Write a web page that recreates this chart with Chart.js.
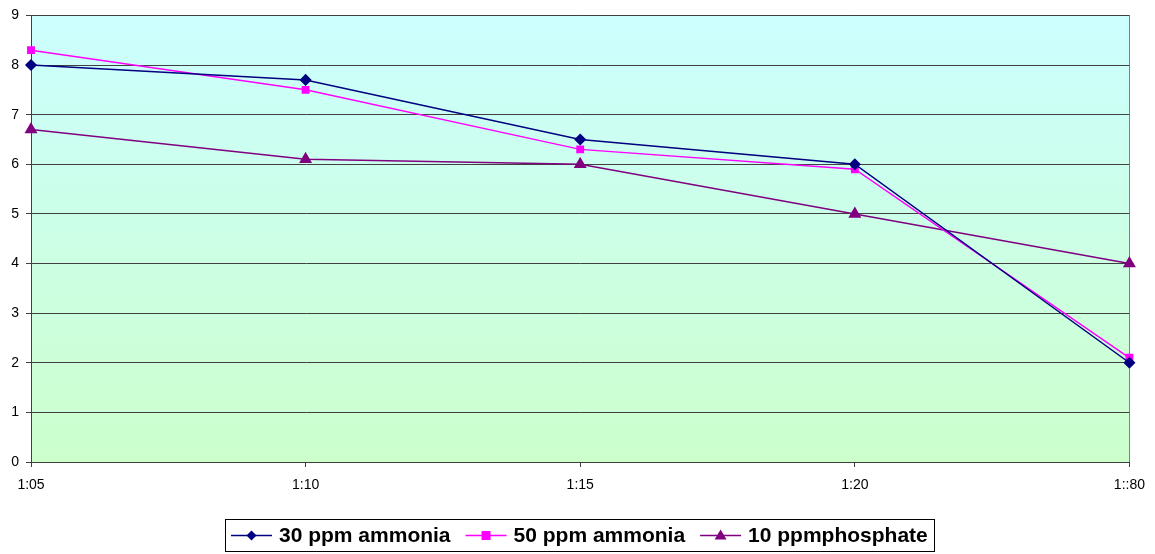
<!DOCTYPE html>
<html>
<head>
<meta charset="utf-8">
<script src="https://cdn.jsdelivr.net/npm/chart.js@4/dist/chart.umd.min.js"></script>
<style>
html,body{margin:0;padding:0;background:#fff;}
#wrap{width:1155px;height:554px;}
</style>
</head>
<body>
<div id="wrap"><canvas id="c" width="1155" height="554"></canvas></div>
<script>
const categories = ['1:05', '1:10', '1:15', '1:20', '1::80'];
const ammonia30 = [8, 7.7, 6.5, 6, 2];
const ammonia50 = [8.3, 7.5, 6.3, 5.9, 2.1];
const phosphate10 = [6.7, 6.1, 6.0, 5.0, 4.0];
const seriesNames = ['30 ppm ammonia', '50 ppm ammonia', '10 ppmphosphate'];

const bgPlugin = {
  id: 'bg',
  beforeDraw(chart) {
    const {ctx, chartArea: a} = chart;
    const g = ctx.createLinearGradient(0, a.top, 0, a.bottom);
    g.addColorStop(0, '#CCFFFF');
    g.addColorStop(1, '#CCFFCC');
    ctx.save();
    ctx.fillStyle = g;
    ctx.fillRect(a.left, a.top, a.right - a.left, a.bottom - a.top);
    ctx.strokeStyle = '#808080';
    ctx.lineWidth = 1;
    ctx.strokeRect(Math.round(a.left) + 0.5, Math.round(a.top) + 0.5, Math.round(a.right - a.left), Math.round(a.bottom - a.top));
    ctx.restore();
  }
};

function drawMarker(ctx, style, x, y, color) {
  ctx.fillStyle = color;
  ctx.beginPath();
  if (style === 'rectRot') {
    const r = 5;
    ctx.moveTo(x, y - r); ctx.lineTo(x + r, y); ctx.lineTo(x, y + r); ctx.lineTo(x - r, y);
  } else if (style === 'rect') {
    ctx.rect(x - 4.5, y - 4.5, 9, 9);
  } else {
    ctx.moveTo(x, y - 6); ctx.lineTo(x + 6, y + 4); ctx.lineTo(x - 6, y + 4);
  }
  ctx.closePath();
  ctx.fill();
}

const legendPlugin = {
  id: 'boxLegend',
  afterDraw(chart) {
    const {ctx} = chart;
    ctx.save();
    ctx.font = 'bold 21px "Liberation Sans", Arial, sans-serif';
    const lineLen = 41, gap = 7, spacing = 15, padX = 6;
    const items = chart.data.datasets.map(ds => ({ds, w: ctx.measureText(ds.label).width}));
    let total = padX * 2;
    items.forEach((it, i) => { total += lineLen + gap + it.w + (i < items.length - 1 ? spacing : 0); });
    const cx = 579;
    const left = Math.round(cx - total / 2);
    const top = 519, h = 32;
    ctx.strokeStyle = '#000';
    ctx.lineWidth = 1;
    ctx.strokeRect(left + 0.5, top + 0.5, Math.round(total), h);
    let x = left + padX;
    const y = top + h / 2 + 0.5;
    items.forEach(it => {
      const ds = it.ds;
      ctx.strokeStyle = ds.borderColor;
      ctx.lineWidth = 1.5;
      ctx.beginPath();
      ctx.moveTo(x, y); ctx.lineTo(x + lineLen, y); ctx.stroke();
      drawMarker(ctx, ds.pointStyle, x + lineLen / 2, y, ds.pointBackgroundColor);
      x += lineLen + gap;
      ctx.fillStyle = '#000';
      ctx.textBaseline = 'middle';
      ctx.textAlign = 'left';
      ctx.fillText(ds.label, x, y + 1);
      x += it.w + spacing;
    });
    ctx.restore();
  }
};

new Chart(document.getElementById('c'), {
  type: 'line',
  data: {
    labels: categories,
    datasets: [
      {label: seriesNames[0], data: ammonia30, borderColor: '#000080', backgroundColor: '#000080',
       pointBackgroundColor: '#000080', pointBorderColor: '#000080', pointStyle: 'rectRot', pointRadius: 5, borderWidth: 1.5},
      {label: seriesNames[1], data: ammonia50, borderColor: '#FF00FF', backgroundColor: '#FF00FF',
       pointBackgroundColor: '#FF00FF', pointBorderColor: '#FF00FF', pointStyle: 'rect', pointRadius: 4.5, borderWidth: 1.5},
      {label: seriesNames[2], data: phosphate10, borderColor: '#800080', backgroundColor: '#800080',
       pointBackgroundColor: '#800080', pointBorderColor: '#800080', pointStyle: 'triangle', pointRadius: 6, borderWidth: 1.5}
    ]
  },
  options: {
    responsive: false,
    animation: false,
    layout: {padding: {top: 10, right: 22, left: 0, bottom: 62}},
    plugins: {legend: {display: false}, tooltip: {enabled: false}},
    elements: {line: {tension: 0}},
    scales: {
      x: {
        offset: false,
        grid: {drawOnChartArea: false, color: '#404040', tickLength: 5},
        border: {color: '#404040'},
        ticks: {color: '#000', font: {family: '"Liberation Sans", Arial, sans-serif', size: 14}, padding: 10, maxRotation: 0},
        afterFit(s) { s.height = 30; }
      },
      y: {
        min: 0, max: 9,
        ticks: {stepSize: 1, color: '#000', font: {family: '"Liberation Sans", Arial, sans-serif', size: 14}, padding: 7},
        grid: {color: '#404040', tickLength: 5},
        border: {color: '#404040'},
        afterFit(s) { s.width = 31; }
      }
    }
  },
  plugins: [bgPlugin, legendPlugin]
});
</script>
</body>
</html>
